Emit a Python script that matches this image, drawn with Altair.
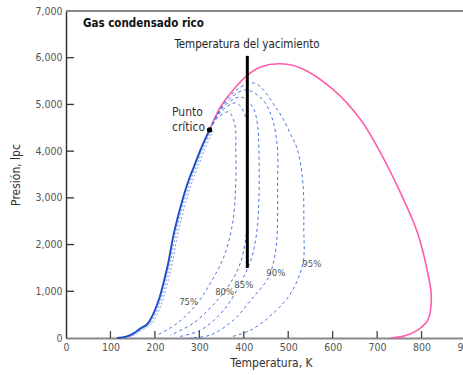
import altair as alt
import pandas as pd

# Dew-point branch (pink), from the critical point round to the cricondentherm
dew_T = [323, 348, 380, 409, 438, 479, 528, 602, 663, 708, 753, 791, 814, 822, 814, 791, 760, 731]
dew_P = [4454, 4950, 5350, 5630, 5800, 5870, 5780, 5310, 4670, 3960, 3100, 2250, 1390, 880, 385, 170, 40, 0]

# Bubble-point branch (blue), from low pressure up to the critical point
bub_T = [115, 135, 152, 167, 183, 198, 210, 220, 230, 243, 262, 275, 288, 305, 323]
bub_P = [0, 30, 100, 200, 300, 550, 850, 1200, 1600, 2250, 2950, 3350, 3670, 4080, 4454]

# Vapour-quality lines
q75_T = [323, 343, 366, 380, 382, 382, 375, 355, 325, 296, 251, 206]
q75_P = [4454, 4732, 4839, 4561, 4026, 3319, 2463, 1734, 1178, 749, 321, 64]
q80_T = [323, 348, 382, 400, 409, 409, 409, 404, 393, 377, 341, 287, 235]
q80_P = [4454, 4839, 5032, 4839, 4454, 3812, 2955, 2099, 1627, 1285, 814, 321, 64]
q85_T = [323, 352, 393, 420, 431, 434, 434, 429, 416, 393, 355, 303, 251]
q85_P = [4454, 4925, 5160, 4946, 4561, 4026, 2955, 2248, 1670, 1178, 600, 171, 21]
q90_T = [323, 359, 404, 443, 465, 476, 476, 476, 472, 456, 416, 377, 325, 280]
q90_P = [4454, 5032, 5310, 5096, 4668, 4026, 3319, 2591, 1884, 1306, 814, 385, 64, 0]
q95_T = [323, 366, 422, 476, 506, 521, 533, 535, 533, 506, 467, 416, 370]
q95_P = [4454, 5160, 5460, 4880, 4350, 4025, 3320, 2377, 1606, 964, 535, 171, 21]

quality_names = ["75%", "80%", "85%", "90%", "95%"]
label_T = [276, 357, 400, 472, 553]
label_P = [771, 985, 1135, 1392, 1585]

crit_T = [323]
crit_P = [4454]

reservoir_T = [408]
reservoir_P_low = [1500]
reservoir_P_high = [6040]

x_ticks = [100, 200, 300, 400, 500, 600, 700, 800]
y_ticks = [1000, 2000, 3000, 4000, 5000, 6000]

FONT = "Liberation Sans Narrow, DejaVu Sans Condensed, sans-serif"
PINK = "#ff5cad"
BLUE = "#1f4fc8"
DASH_BLUE = "#4672de"

x_scale = alt.Scale(domain=[0, 900], range=[0, 400], nice=False, zero=False)
y_scale = alt.Scale(domain=[0, 7000], nice=False)

dew = pd.DataFrame({"T": dew_T, "P": dew_P, "o": range(len(dew_T))})
bub = pd.DataFrame({"T": bub_T, "P": bub_P, "o": range(len(bub_T))})

rows = []
for name, ts, ps in zip(quality_names,
                        [q75_T, q80_T, q85_T, q90_T, q95_T],
                        [q75_P, q80_P, q85_P, q90_P, q95_P]):
    for i, (t, p) in enumerate(zip(ts, ps)):
        rows.append({"q": name, "T": t, "P": p, "o": i})
qual = pd.DataFrame(rows)
labels = pd.DataFrame({"q": quality_names, "T": label_T, "P": label_P})

x_axis = alt.Axis(values=list(range(0, 1000, 100)), format="d", title="Temperatura, K",
                  tickSize=0, labelPadding=4, labelFontSize=10.5, labelColor="#555",
                  titleFontSize=12, titleFontWeight="normal", titleColor="#333",
                  titlePadding=5, titleX=205, domainColor="#888", domainWidth=2,
                  grid=False, labelFlush=False)
y_axis = alt.Axis(values=list(range(0, 8000, 1000)), format=",.0f", title="Presión, lpc",
                  tickSize=0, labelPadding=4, labelFontSize=10.5, labelColor="#555",
                  titleFontSize=12, titleFontWeight="normal", titleColor="#333",
                  titlePadding=12, domainColor="#333", domainWidth=1.5, grid=False)

enc_x = alt.X("T:Q", scale=x_scale, axis=x_axis)
enc_y = alt.Y("P:Q", scale=y_scale, axis=y_axis)

dew_line = alt.Chart(dew).mark_line(color=PINK, strokeWidth=1.6, interpolate="catmull-rom").encode(
    x=enc_x, y=enc_y, order="o:Q")

bub_hatch = [
    alt.Chart(bub).mark_line(color=DASH_BLUE, strokeWidth=1, strokeDash=[2, 2], opacity=0.7,
                             interpolate="catmull-rom", xOffset=off).encode(
        x=alt.X("T:Q", scale=x_scale), y=alt.Y("P:Q", scale=y_scale), order="o:Q")
    for off in (2, 4)
]
bub_line = alt.Chart(bub).mark_line(color=BLUE, strokeWidth=2, interpolate="catmull-rom").encode(
    x=alt.X("T:Q", scale=x_scale), y=alt.Y("P:Q", scale=y_scale), order="o:Q")

qual_lines = alt.Chart(qual).mark_line(color=DASH_BLUE, strokeWidth=1, strokeDash=[3, 3],
                                        interpolate="catmull-rom").encode(
    x=alt.X("T:Q", scale=x_scale), y=alt.Y("P:Q", scale=y_scale),
    detail="q:N", order="o:Q")

qual_text = alt.Chart(labels).mark_text(font=FONT, fontSize=9.5, color="#555").encode(
    x=alt.X("T:Q", scale=x_scale), y=alt.Y("P:Q", scale=y_scale), text="q:N")

reservoir = alt.Chart(pd.DataFrame({"T": reservoir_T, "P": reservoir_P_low, "P2": reservoir_P_high})).mark_rule(
    color="black", strokeWidth=3).encode(
    x=alt.X("T:Q", scale=x_scale), y=alt.Y("P:Q", scale=y_scale), y2="P2:Q")

crit = alt.Chart(pd.DataFrame({"T": crit_T, "P": crit_P})).mark_point(
    filled=True, color="black", size=28, opacity=1).encode(
    x=alt.X("T:Q", scale=x_scale), y=alt.Y("P:Q", scale=y_scale))

crit_text = alt.Chart(pd.DataFrame({"t": [["Punto", "crítico"]]})).mark_text(
    font=FONT, fontSize=12, color="#333", align="left", baseline="top", lineHeight=15).encode(
    x=alt.value(106), y=alt.value(96), text="t")

res_text = alt.Chart(pd.DataFrame({"t": ["Temperatura del yacimiento"]})).mark_text(
    font=FONT, fontSize=11.5, color="#222", align="center", baseline="middle").encode(
    x=alt.value(181), y=alt.value(34), text="t")

title_text = alt.Chart(pd.DataFrame({"t": ["Gas condensado rico"]})).mark_text(
    font=FONT, fontSize=11.5, fontWeight="bold", color="#111", align="left", baseline="middle").encode(
    x=alt.value(17), y=alt.value(13), text="t")

# inward tick marks and the top frame line
xt = alt.Chart(pd.DataFrame({"T": x_ticks})).mark_rule(color="#444", strokeWidth=1.3).encode(
    x=alt.X("T:Q", scale=x_scale), y=alt.value(327), y2=alt.value(320))
yt = alt.Chart(pd.DataFrame({"P": y_ticks})).mark_rule(color="#333", strokeWidth=1.3).encode(
    y=alt.Y("P:Q", scale=y_scale), x=alt.value(0), x2=alt.value(8))
top = alt.Chart(pd.DataFrame({"a": [0]})).mark_rule(color="#888", strokeWidth=2).encode(
    x=alt.value(0), x2=alt.value(400), y=alt.value(0))

chart = alt.layer(
    dew_line, *bub_hatch, qual_lines, bub_line, reservoir, crit, qual_text,
    crit_text, res_text, title_text, xt, yt, top
).properties(
    width=397, height=327,
    autosize=alt.AutoSizeParams(type="none"),
    padding={"left": 66, "top": 11, "right": 0, "bottom": 37},
).configure_view(stroke=None).configure_axis(
    labelFont=FONT, titleFont=FONT
)

chart.save("out.html", embed_options={"renderer": "svg", "actions": False})
